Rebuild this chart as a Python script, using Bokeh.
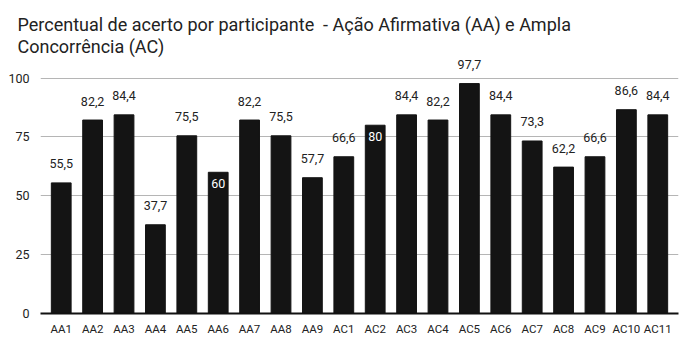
from bokeh.plotting import figure
from bokeh.models import ColumnDataSource, FactorRange, Range1d, FixedTicker, Title
from bokeh.core.properties import value
from bokeh.embed import file_html
from bokeh.resources import INLINE

categories = ["AA1", "AA2", "AA3", "AA4", "AA5", "AA6", "AA7", "AA8", "AA9",
              "AC1", "AC2", "AC3", "AC4", "AC5", "AC6", "AC7", "AC8", "AC9", "AC10", "AC11"]
values = [55.5, 82.2, 84.4, 37.7, 75.5, 60, 82.2, 75.5, 57.7,
          66.6, 80, 84.4, 82.2, 97.7, 84.4, 73.3, 62.2, 66.6, 86.6, 84.4]
labels_inside = ["AA6", "AC2"]
y_ticks = [0, 25, 50, 75, 100]
title_lines = ["Percentual de acerto por participante\u00a0\u00a0- Ação Afirmativa (AA) e Ampla",
               "Concorrência (AC)"]


def fmt(v):
    return str(int(v)) if float(v).is_integer() else f"{v:.1f}".replace(".", ",")


out_x, out_y, out_t = [], [], []
in_x, in_y, in_t = [], [], []
for c, v in zip(categories, values):
    if c in labels_inside:
        in_x.append(c); in_y.append(v); in_t.append(fmt(v))
    else:
        out_x.append(c); out_y.append(v); out_t.append(fmt(v))

src = ColumnDataSource(dict(x=categories, top=values))
src_out = ColumnDataSource(dict(x=out_x, y=out_y, t=out_t))
src_in = ColumnDataSource(dict(x=in_x, y=in_y, t=in_t))

x_range = FactorRange(*categories, range_padding=0.16, range_padding_units="absolute")
p = figure(x_range=x_range, y_range=Range1d(0, 109.2), width=692, height=352,
           output_backend="svg", toolbar_location=None,
           min_border_left=40, min_border_right=14, min_border_top=56, min_border_bottom=39)
p.title = None

for i, line in enumerate(reversed(title_lines)):
    t = Title(text=line, text_font="Roboto", text_font_size="18px", text_font_style="normal",
              text_color="#222222", offset=-23, standoff=(0 if i == 0 else -3))
    p.add_layout(t, "above")

p.vbar(x="x", top="top", width=0.63, source=src, fill_color="#141414", line_color="#141414")

p.text(x="x", y="y", text="t", source=src_out, text_align="center", text_baseline="middle",
       y_offset=-19, text_font=value("Roboto"), text_font_size="12.5px", text_color="#222222")
p.text(x="x", y="y", text="t", source=src_in, text_align="center", text_baseline="middle",
       y_offset=11, text_font=value("Roboto"), text_font_size="12.5px", text_color="#ffffff")

p.xgrid.grid_line_color = None
p.ygrid.grid_line_color = "#b5b5b5"
p.ygrid.grid_line_width = 1
p.yaxis.ticker = FixedTicker(ticks=y_ticks)
p.yaxis.axis_line_color = None
p.yaxis.major_tick_line_color = None
p.yaxis.minor_tick_line_color = None
p.yaxis.major_label_text_font = "Roboto"
p.yaxis.major_label_text_font_size = "12.5px"
p.yaxis.major_label_text_color = "#222222"
p.yaxis.major_label_standoff = 5

p.xaxis.axis_line_color = "#111111"
p.xaxis.axis_line_width = 2
p.xaxis.major_tick_line_color = None
p.xaxis.minor_tick_line_color = None
p.xaxis.major_label_text_font = "Roboto"
p.xaxis.major_label_text_font_size = "11.5px"
p.xaxis.major_label_text_color = "#222222"
p.xaxis.major_label_standoff = 2
p.xaxis.group_text_font_size = "0px"

p.outline_line_color = None
p.background_fill_color = "white"
p.border_fill_color = "white"

open("out.html", "w").write(file_html(p, INLINE))
